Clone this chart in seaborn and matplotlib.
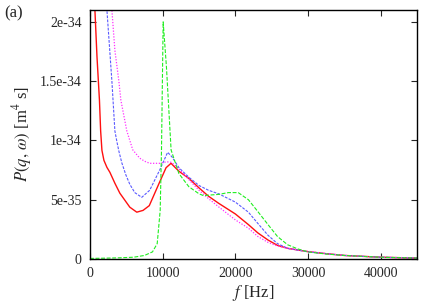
import numpy as np
import pandas as pd
import seaborn as sns
import matplotlib
matplotlib.use('Agg')
import matplotlib.pyplot as plt

# values, P in units of 1e-35 m^4 s
f_red = [300, 685, 959, 1301, 1466, 1644, 1918, 2329, 2740, 3425, 4110, 5480, 6438, 7300, 8160,
         9520, 10470, 11150, 12240, 13600, 15000, 16300, 17700, 20000, 21800, 23100, 24500,
         25800, 27200, 30000, 32500, 35000, 40000, 45000]
p_red = [32, 20.9, 17.1, 13.4, 10.8, 9.16, 8.32, 7.73, 7.31, 6.39, 5.55, 4.37, 3.95, 4.1, 4.5,
         6.4, 7.7, 8.07, 7.4, 6.8, 6.0, 5.3, 4.7, 3.8, 2.9, 2.2, 1.6,
         1.15, 0.9, 0.62, 0.45, 0.3, 0.15, 0.08]

f_blue = [1500, 2329, 3014, 3425, 3700, 3973, 4384, 4932, 5480, 6164, 7123, 8219, 9589, 10685,
          11300, 12240, 13600, 15000, 16300, 17700, 20000, 21800, 23100, 24500, 25800, 27200,
          30000, 32500, 35000, 40000, 45000]
p_blue = [30, 21, 15, 10.8, 9.9, 9.1, 8.1, 7.1, 6.3, 5.6, 5.2, 5.8, 7.5, 9.0,
          8.6, 7.7, 6.9, 6.2, 5.8, 5.5, 4.8, 3.95, 3.0, 2.0, 1.3, 0.9,
          0.6, 0.45, 0.3, 0.15, 0.08]

f_mag = [2000, 3014, 3425, 3973, 4247, 5068, 5890, 6849, 7534, 8219, 9589, 10548, 11233, 12240,
         13600, 15000, 16300, 17700, 20000, 21800, 23100, 24500, 25800, 27200, 30000, 32500,
         35000, 40000, 45000]
p_mag = [33, 21, 17.6, 15, 13.4, 10.8, 9.2, 8.5, 8.24, 8.07, 8.07, 8.2, 8.15, 7.6,
         6.7, 5.8, 5.1, 4.4, 3.3, 2.6, 1.9, 1.4, 1.1, 0.9, 0.65, 0.45,
         0.3, 0.15, 0.08]

f_green = [0, 2000, 4000, 6000, 7500, 8600, 9250, 9660, 9840, 10070, 10520, 11160, 12240, 13600,
           15000, 15600, 17700, 19050, 20400, 21800, 23100, 24500, 25800, 27200, 28600, 30000,
           32500, 35000, 40000, 45000]
p_green = [0.05, 0.07, 0.1, 0.15, 0.3, 0.6, 1.3, 4.1, 9.2, 20.0, 16.2, 9.2, 7.2, 6.1,
           5.5, 5.35, 5.45, 5.6, 5.6, 5.0, 4.0, 2.9, 1.9, 1.2, 0.85, 0.6,
           0.42, 0.3, 0.15, 0.08]

x_ticks = [0, 10000, 20000, 30000, 40000]
y_ticks = [0, 5e-35, 1e-34, 1.5e-34, 2e-34]
y_tick_labels = ['0', '5e-35', '1e-34', '1.5e-34', '2e-34']

sns.set_style('ticks')
plt.rcParams['font.family'] = ['Liberation Serif', 'DejaVu Serif']
plt.rcParams['mathtext.fontset'] = 'stix'

fig = plt.figure(figsize=(4.36, 3.03), dpi=100)
ax = fig.add_axes([0.2064, 0.1452, 0.75, 0.8218])

series = [
    (f_red, p_red, '#ff1010', '-', 1.0),
    (f_blue, p_blue, '#5a5aff', (0, (2.5, 1.2)), 0.8),
    (f_mag, p_mag, '#ff30ff', (0, (1.0, 1.3)), 0.9),
    (f_green, p_green, '#20ee20', (0, (3.5, 1.5)), 0.8),
]
for f, p, col, ls, lw in series:
    df = pd.DataFrame({'f': f, 'P': np.array(p) * 1e-35})
    sns.lineplot(data=df, x='f', y='P', color=col, linestyle=ls, linewidth=lw, ax=ax)

ax.set_xlim(0, 45000)
ax.set_ylim(0, 2.1e-34)
ax.set_xticks(x_ticks)
ax.set_xticklabels([str(t) for t in x_ticks])
ax.set_yticks(y_ticks)
ax.set_yticklabels(y_tick_labels)
ax.tick_params(direction='in', length=4, width=0.8, labelsize=10, top=True, right=True, pad=6)
for s in ax.spines.values():
    s.set_linewidth(1.0)
    s.set_color('black')

ax.set_xlabel(r'$f$ [Hz]', fontsize=12, labelpad=2)
ax.set_ylabel(r'$P(q,\,\omega)$ [m$^4$ s]', fontsize=12, labelpad=4)
fig.text(0.01, 0.955, '(a)', fontsize=12, ha='left', va='center')

fig.savefig('out.png', dpi=100)
